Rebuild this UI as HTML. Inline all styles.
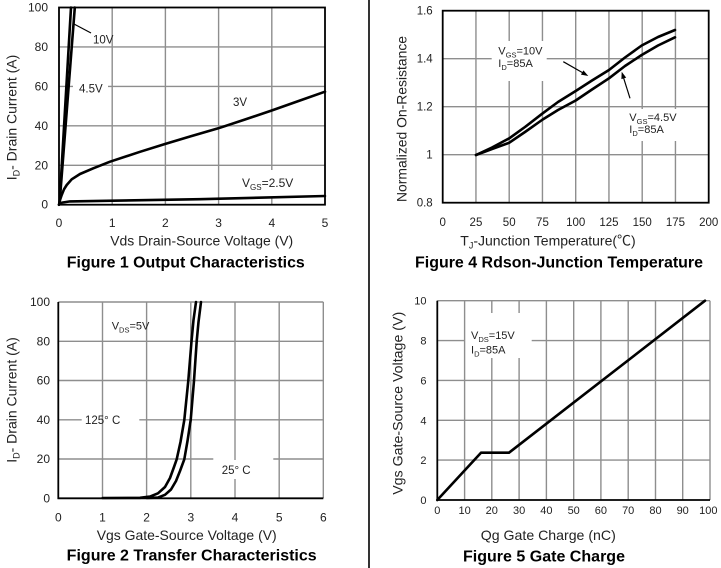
<!DOCTYPE html>
<html><head><meta charset="utf-8"><style>
html,body{margin:0;padding:0;background:#fff;}
svg{display:block;}
text{font-family:"Liberation Sans",Arial,"Noto Sans CJK SC",sans-serif;fill:#222;}
.t{font-size:12px;}
.t11{font-size:11.5px;}
.t10{font-size:11px;}
.ax{font-size:14px;}
.ti{font-size:16px;font-weight:bold;fill:#000;}
.g{stroke:#8e8e8e;stroke-width:1.4;fill:none;}
.c{stroke:#000;stroke-width:2.6;fill:none;stroke-linejoin:round;stroke-linecap:round;}
</style></head><body>
<svg width="721" height="568" viewBox="0 0 721 568" xmlns="http://www.w3.org/2000/svg">
<rect x="0" y="0" width="721" height="568" fill="#fff"/>
<!-- divider -->
<line x1="369" y1="0" x2="369" y2="568" stroke="#000" stroke-width="1.6"/>

<!-- ================= FIGURE 1 ================= -->
<g class="g">
<path d="M112.2 7.5V204.7M165.4 7.5V204.7M218.6 7.5V204.7M271.8 7.5V204.7"/>
<path d="M59 46.9H325M59 86.4H325M59 125.8H325M59 165.3H325"/>
</g>
<rect x="73" y="80" width="35" height="14" fill="#fff"/>
<rect x="236" y="170" width="62" height="27" fill="#fff"/>
<polyline class="c" points="59,204.7 60,200 61.7,195 64,189.3 66.7,185 71.7,179.3 80,174 93.3,168.3 110,161.7 140,151.8 165,144 190,136.5 218.3,128.3 245,119.5 271.7,110.5 300,100.5 325,91.7"/>
<polyline class="c" points="59,204.7 62,202.6 70,201.4 200,199.2 325,196"/>
<line class="c" x1="59.5" y1="204" x2="71" y2="7.5" stroke-width="2.3"/>
<line class="c" x1="59.5" y1="204" x2="74.8" y2="7.5" stroke-width="2.3"/>
<line x1="74" y1="24" x2="91" y2="33" stroke="#000" stroke-width="1.2"/>
<rect x="59" y="7.5" width="266" height="197.2" fill="none" stroke="#000" stroke-width="1.8"/>
<g class="t" text-anchor="end">
<text x="48" y="11.5">100</text><text x="48" y="50.9">80</text><text x="48" y="90.4">60</text>
<text x="48" y="129.8">40</text><text x="48" y="169.3">20</text><text x="48" y="208.7">0</text>
</g>
<g class="t" text-anchor="middle">
<text x="59" y="227">0</text><text x="112.2" y="227">1</text><text x="165.4" y="227">2</text>
<text x="218.6" y="227">3</text><text x="271.8" y="227">4</text><text x="325" y="227">5</text>
</g>
<text class="t11" x="93" y="43.5">10V</text>
<text class="t11" x="79" y="92.5">4.5V</text>
<text class="t11" x="233" y="106">3V</text>
<text class="t" x="242" y="187">V<tspan font-size="8" dy="3">GS</tspan><tspan dy="-3">=2.5V</tspan></text>
<text class="ax" transform="translate(16.5,117.5) rotate(-90)" text-anchor="middle">I<tspan font-size="9" dy="3">D</tspan><tspan dy="-3">- Drain Current (A)</tspan></text>
<text class="ax" x="201.7" y="245.5" text-anchor="middle" textLength="183" lengthAdjust="spacingAndGlyphs">Vds Drain-Source Voltage (V)</text>
<text class="ti" x="185.8" y="267.5" text-anchor="middle" textLength="238" lengthAdjust="spacingAndGlyphs">Figure 1 Output Characteristics</text>

<!-- ================= FIGURE 4 ================= -->
<g class="g">
<path d="M475.95 10.7V202.7M509.2 10.7V202.7M542.45 10.7V202.7M575.7 10.7V202.7M608.95 10.7V202.7M642.2 10.7V202.7M675.45 10.7V202.7"/>
<path d="M442.7 58.7H708.7M442.7 106.7H708.7M442.7 154.7H708.7"/>
</g>
<rect x="491.7" y="41" width="55" height="40" fill="#fff"/>
<rect x="625" y="109" width="68" height="32" fill="#fff"/>
<polyline class="c" points="476,155 492,147.5 509.3,138.3 525,127 542.7,113.3 558,102 575.7,91 592,80.5 609,70 625,57.5 641.7,45.5 658,37 675,30"/>
<polyline class="c" points="476,155 492,149 509.3,142.7 525,132 542.7,119.5 558,110 575.7,100.5 592,89.5 609,78.3 625,66 641.7,55 658,45.5 675,37.3"/>
<line x1="563.3" y1="61.7" x2="584" y2="73.5" stroke="#000" stroke-width="1.2"/>
<polygon points="588.3,76 580.96,74.67 583.45,70.33" fill="#000"/>
<line x1="630" y1="98.3" x2="623" y2="76" stroke="#000" stroke-width="1.2"/>
<polygon points="621.7,71.7 626.18,77.63 621.4,79.13" fill="#000"/>
<rect x="442.7" y="10.7" width="266" height="192" fill="none" stroke="#000" stroke-width="1.8"/>
<g class="t11" text-anchor="end">
<text x="432.7" y="14.7">1.6</text><text x="432.7" y="62.7">1.4</text><text x="432.7" y="110.7">1.2</text>
<text x="432.7" y="158.7">1</text><text x="432.7" y="206.7">0.8</text>
</g>
<g class="t11" text-anchor="middle">
<text x="442.7" y="226">0</text><text x="475.95" y="226">25</text><text x="509.2" y="226">50</text>
<text x="542.45" y="226">75</text><text x="575.7" y="226">100</text><text x="608.95" y="226">125</text>
<text x="642.2" y="226">150</text><text x="675.45" y="226">175</text><text x="708.7" y="226">200</text>
</g>
<text class="t10" x="498.3" y="54.5">V<tspan font-size="7.5" dy="3">GS</tspan><tspan dy="-3">=10V</tspan></text>
<text class="t10" x="498.3" y="67">I<tspan font-size="7.5" dy="3">D</tspan><tspan dy="-3">=85A</tspan></text>
<text class="t10" x="629.3" y="121">V<tspan font-size="7.5" dy="3">GS</tspan><tspan dy="-3">=4.5V</tspan></text>
<text class="t10" x="629.3" y="133">I<tspan font-size="7.5" dy="3">D</tspan><tspan dy="-3">=85A</tspan></text>
<text class="ax" transform="translate(406.5,119) rotate(-90)" text-anchor="middle" textLength="166" lengthAdjust="spacingAndGlyphs">Normalized On-Resistance</text>
<text class="ax" x="548" y="245.5" text-anchor="middle">T<tspan font-size="9" dy="3">J</tspan><tspan dy="-3">-Junction Temperature(℃)</tspan></text>
<text class="ti" x="559" y="267.5" text-anchor="middle" textLength="288" lengthAdjust="spacingAndGlyphs">Figure 4 Rdson-Junction Temperature</text>

<!-- ================= FIGURE 2 ================= -->
<g class="g">
<path d="M102.5 302V498.3M146.6 302V498.3M190.8 302V498.3M279.2 302V498.3M323.3 302V498.3M235 302V460M235 479V498.3"/>
<path d="M58.3 302H323.3M58.3 341.3H323.3M58.3 380.5H323.3M58.3 419.8H81.7M139.3 419.8H323.3M58.3 459H213.3M273.3 459H323.3"/>
</g>
<polyline class="c" points="102.7,498 140,497.8 150,496.6 158,493.3 165,487 170,478 174,467 176.7,459.3 180.5,442 184.3,420 188.3,380.7 191.5,341.3 193.5,320 196,302"/>
<polyline class="c" points="146.7,498 158,497.6 165,494.8 171,489.5 176,481 180,471 184.3,459.3 187.5,441 190.7,420 194,380.7 196.7,341.3 198.5,322 201,302"/>
<line x1="58.3" y1="302" x2="58.3" y2="499" stroke="#000" stroke-width="1.8"/>
<line x1="57.5" y1="498.3" x2="323.3" y2="498.3" stroke="#000" stroke-width="1.8"/>
<g class="t" text-anchor="end">
<text x="50" y="306">100</text><text x="50" y="345.3">80</text><text x="50" y="384.5">60</text>
<text x="50" y="423.8">40</text><text x="50" y="463">20</text><text x="50" y="502.3">0</text>
</g>
<g class="t" text-anchor="middle">
<text x="58.3" y="521.5">0</text><text x="102.5" y="521.5">1</text><text x="146.6" y="521.5">2</text>
<text x="190.8" y="521.5">3</text><text x="235" y="521.5">4</text><text x="279.2" y="521.5">5</text><text x="323.3" y="521.5">6</text>
</g>
<text class="t10" x="111.7" y="329.5">V<tspan font-size="7.5" dy="3">DS</tspan><tspan dy="-3">=5V</tspan></text>
<text class="t11" x="85" y="424">125° C</text>
<text class="t11" x="221.7" y="473.8">25° C</text>
<text class="ax" transform="translate(16.5,400) rotate(-90)" text-anchor="middle">I<tspan font-size="9" dy="3">D</tspan><tspan dy="-3">- Drain Current (A)</tspan></text>
<text class="ax" x="186.7" y="540" text-anchor="middle" textLength="180" lengthAdjust="spacingAndGlyphs">Vgs Gate-Source Voltage (V)</text>
<text class="ti" x="191.7" y="560.5" text-anchor="middle" textLength="250" lengthAdjust="spacingAndGlyphs">Figure 2 Transfer Characteristics</text>

<!-- ================= FIGURE 5 ================= -->
<g class="g">
<path d="M464.6 300.7V500M546.4 300.7V500M573.7 300.7V500M600.9 300.7V500M628.2 300.7V500M655.5 300.7V500M682.7 300.7V500M710 300.7V500M491.8 300.7V313M491.8 358V500M519.1 300.7V313M519.1 358V500"/>
<path d="M437.3 300.7H710M437.3 340.6H465M531.7 340.6H710M437.3 380.4H710M437.3 420.3H710M437.3 460.1H710"/>
</g>
<polyline class="c" stroke-width="2.8" points="437.3,500 481,452.7 509,452.7 705,300.7"/>
<line x1="437.3" y1="300.7" x2="437.3" y2="500.8" stroke="#000" stroke-width="1.8"/>
<line x1="436.5" y1="500" x2="710" y2="500" stroke="#000" stroke-width="1.8"/>
<g class="t10" text-anchor="end">
<text x="426.5" y="304.7">10</text><text x="426.5" y="344.6">8</text><text x="426.5" y="384.4">6</text>
<text x="426.5" y="424.3">4</text><text x="426.5" y="464.1">2</text><text x="426.5" y="504">0</text>
</g>
<g class="t10" text-anchor="middle">
<text x="437.3" y="514">0</text><text x="464.6" y="514">10</text><text x="491.8" y="514">20</text>
<text x="519.1" y="514">30</text><text x="546.4" y="514">40</text><text x="573.7" y="514">50</text>
<text x="600.9" y="514">60</text><text x="628.2" y="514">70</text><text x="655.5" y="514">80</text>
<text x="682.7" y="514">90</text><text x="708.3" y="514">100</text>
</g>
<text class="t10" x="471" y="339">V<tspan font-size="7.5" dy="3">DS</tspan><tspan dy="-3">=15V</tspan></text>
<text class="t10" x="471" y="353.5">I<tspan font-size="7.5" dy="3">D</tspan><tspan dy="-3">=85A</tspan></text>
<text class="ax" transform="translate(402.3,403.3) rotate(-90)" text-anchor="middle" textLength="183" lengthAdjust="spacingAndGlyphs">Vgs Gate-Source Voltage (V)</text>
<text class="ax" x="548.3" y="540" text-anchor="middle" textLength="135" lengthAdjust="spacingAndGlyphs">Qg Gate Charge (nC)</text>
<text class="ti" x="544" y="561.5" text-anchor="middle" textLength="162" lengthAdjust="spacingAndGlyphs">Figure 5 Gate Charge</text>
</svg>
</body></html>
